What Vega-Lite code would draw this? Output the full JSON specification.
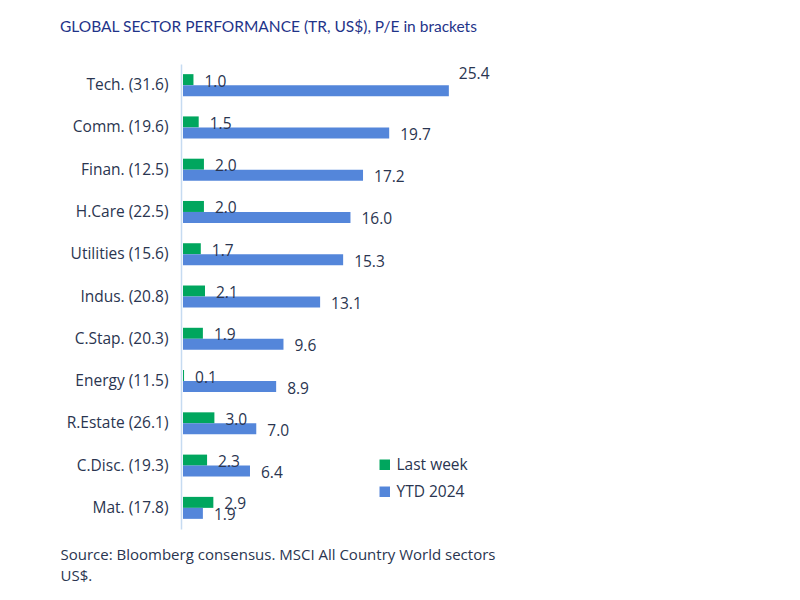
{
  "$schema": "https://vega.github.io/schema/vega-lite/v6.json",
  "width": 314,
  "height": 465,
  "autosize": "none",
  "padding": {"left": 181, "top": 64, "right": 305, "bottom": 71},
  "background": "white",
  "config": {"view": {"stroke": null}, "font": "Open Sans"},
  "title": {
    "text": "GLOBAL SECTOR PERFORMANCE (TR, US$), P/E in brackets",
    "anchor": "start",
    "frame": "group",
    "dx": -121,
    "offset": 29,
    "fontSize": 15.5,
    "fontWeight": "normal",
    "color": "#1f3489",
    "font": "Lato"
  },
  "data": {
    "values": [
      {"sector": "Tech. (31.6)", "series": "Last week", "value": 1.0},
      {"sector": "Tech. (31.6)", "series": "YTD 2024", "value": 25.4},
      {"sector": "Comm. (19.6)", "series": "Last week", "value": 1.5},
      {"sector": "Comm. (19.6)", "series": "YTD 2024", "value": 19.7},
      {"sector": "Finan. (12.5)", "series": "Last week", "value": 2.0},
      {"sector": "Finan. (12.5)", "series": "YTD 2024", "value": 17.2},
      {"sector": "H.Care (22.5)", "series": "Last week", "value": 2.0},
      {"sector": "H.Care (22.5)", "series": "YTD 2024", "value": 16.0},
      {"sector": "Utilities (15.6)", "series": "Last week", "value": 1.7},
      {"sector": "Utilities (15.6)", "series": "YTD 2024", "value": 15.3},
      {"sector": "Indus. (20.8)", "series": "Last week", "value": 2.1},
      {"sector": "Indus. (20.8)", "series": "YTD 2024", "value": 13.1},
      {"sector": "C.Stap. (20.3)", "series": "Last week", "value": 1.9},
      {"sector": "C.Stap. (20.3)", "series": "YTD 2024", "value": 9.6},
      {"sector": "Energy (11.5)", "series": "Last week", "value": 0.1},
      {"sector": "Energy (11.5)", "series": "YTD 2024", "value": 8.9},
      {"sector": "R.Estate (26.1)", "series": "Last week", "value": 3.0},
      {"sector": "R.Estate (26.1)", "series": "YTD 2024", "value": 7.0},
      {"sector": "C.Disc. (19.3)", "series": "Last week", "value": 2.3},
      {"sector": "C.Disc. (19.3)", "series": "YTD 2024", "value": 6.4},
      {"sector": "Mat. (17.8)", "series": "Last week", "value": 2.9},
      {"sector": "Mat. (17.8)", "series": "YTD 2024", "value": 1.9}
    ]
  },
  "encoding": {
    "y": {
      "field": "sector",
      "type": "nominal",
      "sort": null,
      "scale": {"paddingInner": 0.48, "paddingOuter": 0.24},
      "axis": {
        "title": null,
        "ticks": false,
        "domainColor": "#c6dbf1",
        "domainWidth": 1.5,
        "labelFontSize": 15.5,
        "labelColor": "#2a3550",
        "labelPadding": 13,
        "labelFont": "Open Sans"
      }
    },
    "yOffset": {"field": "series", "type": "nominal", "scale": {"paddingInner": 0, "paddingOuter": 0}},
    "x": {
      "field": "value",
      "type": "quantitative",
      "scale": {"domain": [0, 30], "nice": false},
      "axis": {
        "title": ["Source: Bloomberg consensus. MSCI All Country World sectors", "US$."],
        "titleFont": "Open Sans",
        "titleFontSize": 15,
        "titleFontWeight": "normal",
        "titleColor": "#2a3550",
        "titleAlign": "left",
        "titleAnchor": "start",
        "titleX": -121,
        "titleY": 18,
        "titleBaseline": "top",
        "titleLineHeight": 21,
        "labels": false,
        "ticks": false,
        "domain": false,
        "grid": false
      }
    }
  },
  "layer": [
    {
      "mark": {"type": "bar", "x": 2, "xOffset": 2},
      "encoding": {
        "color": {
          "field": "series",
          "type": "nominal",
          "scale": {"domain": ["Last week", "YTD 2024"], "range": ["#00a65e", "#5486da"]},
          "legend": {
            "title": null,
            "orient": "none",
            "legendX": 196,
            "legendY": 393,
            "symbolType": "square",
            "symbolSize": 110,
            "labelOffset": 4,
            "labelFontSize": 15.5,
            "labelColor": "#2a3550",
            "labelFont": "Open Sans",
            "rowPadding": 10,
            "symbolStrokeWidth": 0
          }
        }
      }
    },
    {
      "transform": [{"filter": "datum.value < 25"}],
      "mark": {"type": "text", "align": "left", "baseline": "middle", "dx": 13, "dy": 2, "fontSize": 15.5, "color": "#2a3550", "font": "Open Sans"},
      "encoding": {"text": {"field": "value", "type": "quantitative", "format": ".1f"}}
    },
    {
      "transform": [{"filter": "datum.value >= 25"}],
      "mark": {"type": "text", "align": "left", "baseline": "middle", "dx": 12, "dy": -17, "fontSize": 15.5, "color": "#2a3550", "font": "Open Sans"},
      "encoding": {"text": {"field": "value", "type": "quantitative", "format": ".1f"}}
    }
  ]
}
